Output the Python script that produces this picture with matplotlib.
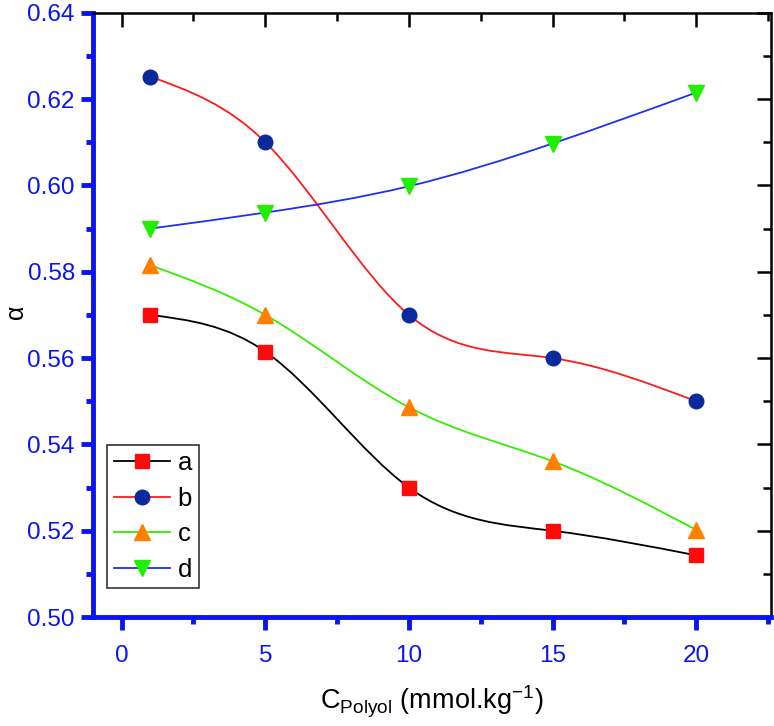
import numpy as np
import matplotlib
matplotlib.use("Agg")
import matplotlib.pyplot as plt
from matplotlib.path import Path
from matplotlib.patches import PathPatch
from matplotlib.lines import Line2D
from matplotlib.ticker import MultipleLocator, FormatStrFormatter

# data
conc = [1, 5, 10, 15, 20]
alpha_a = [0.570, 0.5615, 0.530, 0.520, 0.5143]
alpha_b = [0.6252, 0.610, 0.570, 0.560, 0.550]
alpha_c = [0.5815, 0.570, 0.5486, 0.5361, 0.5202]
alpha_d = [0.590, 0.5937, 0.5998, 0.6097, 0.6215]
labels = ["a", "b", "c", "d"]

plt.rcParams['font.family'] = ['Liberation Sans', 'DejaVu Sans']

BLUE_AX = "#0a14f0"


def spline_path(x, y):
    # natural cubic spline through the points, written as cubic Bezier segments
    x = np.asarray(x, float)
    y = np.asarray(y, float)
    n = len(x)
    h = np.diff(x)
    A = np.zeros((n, n))
    r = np.zeros(n)
    A[0, 0] = A[-1, -1] = 1.0
    for i in range(1, n - 1):
        A[i, i - 1] = h[i - 1]
        A[i, i] = 2 * (h[i - 1] + h[i])
        A[i, i + 1] = h[i]
        r[i] = 6 * ((y[i + 1] - y[i]) / h[i] - (y[i] - y[i - 1]) / h[i - 1])
    M = np.linalg.solve(A, r)
    # first derivatives at the knots
    d = np.zeros(n)
    for i in range(n - 1):
        d[i] = (y[i + 1] - y[i]) / h[i] - h[i] * (2 * M[i] + M[i + 1]) / 6
    d[-1] = (y[-1] - y[-2]) / h[-1] + h[-1] * (M[-2] + 2 * M[-1]) / 6
    verts = [(x[0], y[0])]
    codes = [Path.MOVETO]
    for i in range(n - 1):
        verts += [(x[i] + h[i] / 3, y[i] + d[i] * h[i] / 3),
                  (x[i + 1] - h[i] / 3, y[i + 1] - d[i + 1] * h[i] / 3),
                  (x[i + 1], y[i + 1])]
        codes += [Path.CURVE4] * 3
    return Path(verts, codes)


series = [
    (alpha_a, "black", "s", "#ff0a0a", 9.5),
    (alpha_b, "#ff1a1a", "o", "#0a2a9c", 10.5),
    (alpha_c, "#33ee00", "^", "#ff8000", 12),
    (alpha_d, "#2030f0", "v", "#22ee00", 12),
]

fig = plt.figure(figsize=(7.74, 7.26), dpi=100)
ax = fig.add_axes([0.120, 0.150, 0.876, 0.8325])

handles = []
for (vals, lc, mk, mc, ms), lab in zip(series, labels):
    ax.add_patch(PathPatch(spline_path(conc, vals), fill=False, edgecolor=lc,
                           lw=1.3, zorder=2))
    ax.plot(conc, vals, linestyle="none", marker=mk, markersize=ms,
            markerfacecolor=mc, markeredgecolor=mc, zorder=3)
    handles.append(Line2D([], [], color=lc, lw=1.3, marker=mk, markersize=ms,
                          markerfacecolor=mc, markeredgecolor=mc))

ax.set_xlim(-1, 22.6)
ax.set_ylim(0.50, 0.64)
ax.xaxis.set_major_locator(MultipleLocator(5))
ax.xaxis.set_minor_locator(MultipleLocator(2.5))
ax.yaxis.set_major_locator(MultipleLocator(0.02))
ax.yaxis.set_minor_locator(MultipleLocator(0.01))
ax.yaxis.set_major_formatter(FormatStrFormatter("%.2f"))

for side in ("left", "bottom"):
    ax.spines[side].set_color(BLUE_AX)
    ax.spines[side].set_linewidth(3.5)
for side in ("top", "right"):
    ax.spines[side].set_color("black")
    ax.spines[side].set_linewidth(1.8)

ax.tick_params(which="both", direction="out", colors=BLUE_AX,
               labelcolor=BLUE_AX, labelsize=17.5, top=False, right=False)
ax.tick_params(which="major", length=9, width=3.5)
ax.tick_params(which="minor", length=5, width=3.5)
ax.tick_params(axis="x", pad=11)
ax.tick_params(axis="y", pad=4)

# black inward ticks on top and right
tx = ax.secondary_xaxis("top")
tx.xaxis.set_major_locator(MultipleLocator(5))
tx.xaxis.set_minor_locator(MultipleLocator(2.5))
tx.tick_params(which="both", direction="in", colors="black", labeltop=False, width=1.8)
tx.tick_params(which="major", length=10)
tx.tick_params(which="minor", length=6)
tx.spines["top"].set_visible(False)
ty = ax.secondary_yaxis("right")
ty.yaxis.set_major_locator(MultipleLocator(0.02))
ty.yaxis.set_minor_locator(MultipleLocator(0.01))
ty.tick_params(which="both", direction="in", colors="black", labelright=False, width=1.8)
ty.tick_params(which="major", length=10)
ty.tick_params(which="minor", length=6)
ty.spines["right"].set_visible(False)

ax.set_xlabel(r"C$_{\mathregular{Polyol}}$ (mmol.kg$^{\mathregular{-1}}$)", fontsize=19.5, labelpad=12)
ax.set_ylabel("α", fontsize=18)
ax.yaxis.set_label_coords(-0.095, 0.505)

leg = ax.legend(handles, labels, loc="lower left", bbox_to_anchor=(0.021, 0.048),
                fontsize=18.5, frameon=True, fancybox=False, handlelength=2.2,
                borderpad=0.25, borderaxespad=0, labelspacing=0.45,
                handletextpad=0.3)
leg.get_frame().set_edgecolor("black")
leg.get_frame().set_linewidth(1.2)

fig.savefig("out.png", dpi=100)
